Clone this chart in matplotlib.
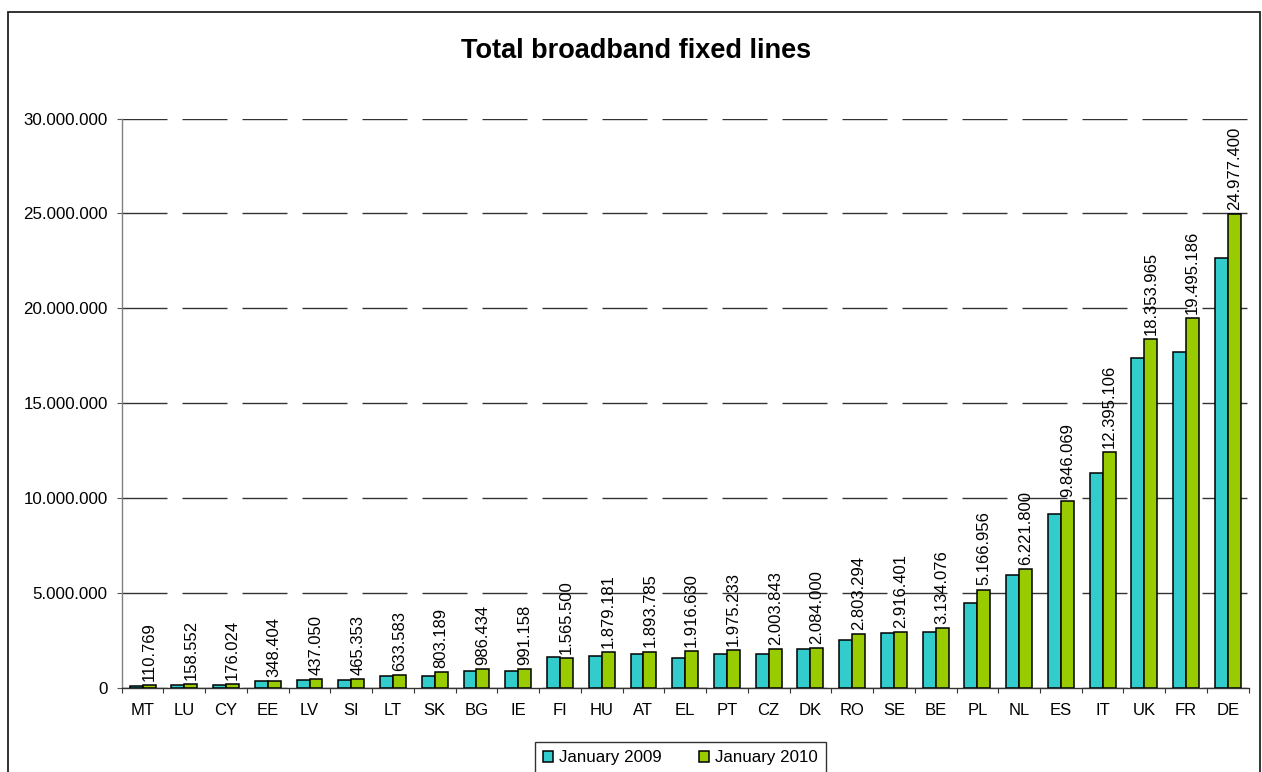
import matplotlib
matplotlib.use("Agg")
import matplotlib.pyplot as plt
from matplotlib.patches import Rectangle
from matplotlib.ticker import FuncFormatter, FixedLocator
import numpy as np

plt.rcParams['font.family'] = ['Liberation Sans', 'DejaVu Sans']

countries = ["MT", "LU", "CY", "EE", "LV", "SI", "LT", "SK", "BG", "IE",
             "FI", "HU", "AT", "EL", "PT", "CZ", "DK", "RO", "SE", "BE",
             "PL", "NL", "ES", "IT", "UK", "FR", "DE"]
jan_2009 = [95000, 140000, 150000, 320000, 390000, 420000, 595000, 595000, 860000, 890000,
            1630000, 1650000, 1790000, 1530000, 1760000, 1780000, 2020000, 2510000, 2850000, 2935000,
            4440000, 5910000, 9140000, 11300000, 17350000, 17680000, 22620000]
jan_2010 = [110769, 158552, 176024, 348404, 437050, 465353, 633583, 803189, 986434, 991158,
            1565500, 1879181, 1893785, 1916630, 1975233, 2003843, 2084000, 2803294, 2916401, 3134076,
            5166956, 6221800, 9846069, 12395106, 18353965, 19495186, 24977400]
series_names = ["January 2009", "January 2010"]
color_2009 = "#33CCCC"
color_2010 = "#99CC00"

W, H = 1262, 772
fig = plt.figure(figsize=(W / 100, H / 100), dpi=100)
ax = fig.add_axes([121.7 / W, 1 - 687.5 / H, (1248.7 - 121.7) / W, (687.5 - 118.5) / H])

n = len(countries)
x = np.arange(n)
bw = 0.31
b1 = ax.bar(x - bw / 2, jan_2009, width=bw, color=color_2009, edgecolor="black",
            linewidth=1.1, label=series_names[0], zorder=3)
b2 = ax.bar(x + bw / 2, jan_2010, width=bw, color=color_2010, edgecolor="black",
            linewidth=1.1, label=series_names[1], zorder=3)

def fmt(v):
    return f"{int(round(v)):,}".replace(",", ".")

for xi, v in zip(x, jan_2010):
    ax.annotate(fmt(v), (xi + bw / 2, v), xytext=(0, 3), textcoords="offset points",
                rotation=90, ha="center", va="bottom", fontsize=12, zorder=4)

ax.set_xlim(-0.5, n - 0.5)
ax.set_ylim(0, 30000000)
ax.set_yticks(np.arange(0, 30000001, 5000000))
ax.yaxis.set_major_formatter(FuncFormatter(lambda v, p: fmt(v)))
ax.tick_params(axis="y", direction="out", length=3.8, width=0.8, pad=6.3,
               labelsize=12.2, color="#555555")

ax.xaxis.set_major_locator(FixedLocator(np.arange(-0.5, n, 1.0)))
ax.xaxis.set_minor_locator(FixedLocator(x))
ax.set_xticklabels([], minor=False)
ax.set_xticklabels(countries, minor=True)
ax.tick_params(axis="x", which="major", direction="out", length=3.5, width=0.8, color="#333333")
ax.tick_params(axis="x", which="minor", length=0, pad=11, labelsize=12)

ax.yaxis.grid(True, color="#333333", linewidth=1.0, linestyle=(0, (32.4, 10.8)), zorder=1)
ax.xaxis.grid(False)
ax.set_axisbelow(True)

for s in ["top", "right"]:
    ax.spines[s].set_visible(False)
ax.spines["left"].set_color("#808080")
ax.spines["left"].set_linewidth(1.0)
ax.spines["bottom"].set_color("#333333")
ax.spines["bottom"].set_linewidth(1.0)

fig.text(636.5 / W, 1 - 51 / H, "Total broadband fixed lines", ha="center", va="center",
         fontsize=19.5, fontweight="bold")

leg = fig.legend(handles=[b1, b2], labels=series_names, loc="upper center",
                 bbox_to_anchor=(680.5 / W, 1 - 742 / H), ncol=2, fontsize=12.2,
                 frameon=True, fancybox=False, edgecolor="black", handlelength=0.6,
                 handleheight=0.6, handletextpad=0.35, columnspacing=2.2, borderpad=0.5,
                 borderaxespad=0)
leg.get_frame().set_linewidth(1.0)

frame = Rectangle((7.5 / W, -0.05), (1260 - 7.5) / W, 1.05 - 12 / H,
                  transform=fig.transFigure, fill=False, edgecolor="#222222",
                  linewidth=1.3, clip_on=False)
fig.patches.append(frame)

fig.savefig("out.png", dpi=100)
